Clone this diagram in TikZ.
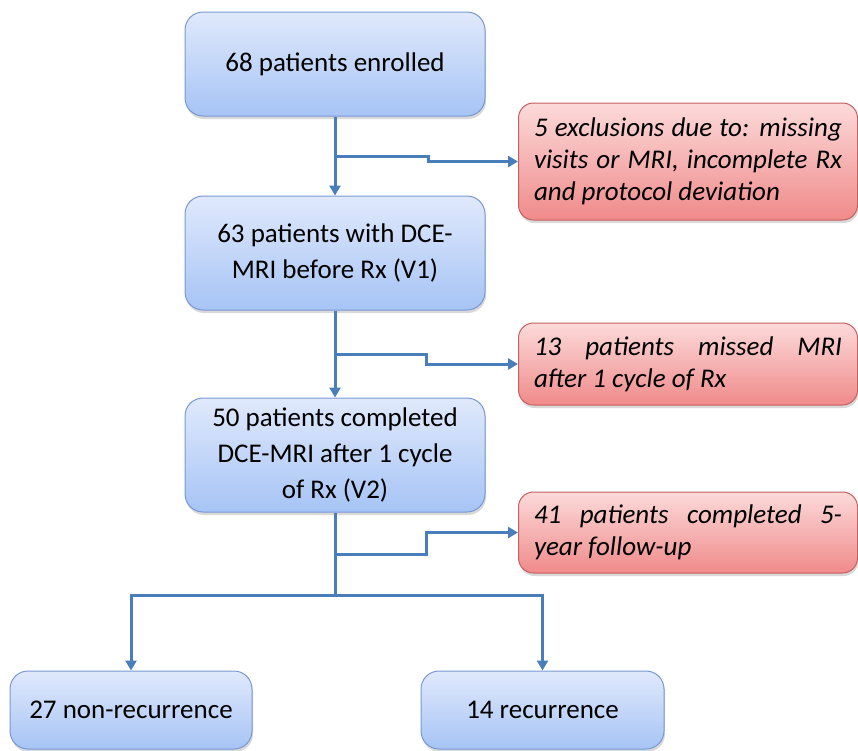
\documentclass[tikz,border=0pt]{standalone}
\usepackage{fontspec}
\setmainfont{Carlito}
\usepackage{xcolor}
\usepackage{tikz}
\usetikzlibrary{positioning,shadows,arrows.meta,calc}

\definecolor{bluetop}{RGB}{224,233,252}
\definecolor{bluebot}{RGB}{166,196,245}
\definecolor{blueline}{RGB}{120,152,212}
\definecolor{redtop}{RGB}{252,218,218}
\definecolor{redbot}{RGB}{240,138,138}
\definecolor{redline}{RGB}{198,96,96}
\definecolor{flowblue}{RGB}{74,126,187}

\begin{document}
\begin{tikzpicture}[x=1pt,y=1pt,
  stage/.style={
   draw=blueline,
   line width=1pt,
   rounded corners=18pt,
   top color=bluetop,
   bottom color=bluebot,
   minimum width=300pt,
   align=center,
   font=\fontsize{27}{36}\selectfont,
   drop shadow={shadow xshift=1pt,shadow yshift=-3pt,opacity=.3}
  },
  outbox/.style={
   draw=redline,
   line width=1pt,
   rounded corners=15pt,
   top color=redtop,
   bottom color=redbot,
   minimum width=339pt,
   text width=308pt,
   align=justify,
   font=\fontsize{27}{32}\selectfont\itshape,
   drop shadow={shadow xshift=1pt,shadow yshift=-3pt,opacity=.3}
  },
  flow/.style={
   draw=flowblue,
   line width=3pt,
   -{Triangle[length=10pt,width=11pt]}
  },
  trunk/.style={draw=flowblue,line width=3pt}]
  \useasboundingbox (0,0) rectangle (858,-750);

  % main line
  \node[stage,minimum height=104pt] at (335,-64)
    (enrol) {68 patients enrolled};
  \node[stage,minimum height=114pt] at (335,-253)
    (dceone) {63 patients with DCE-\\MRI before Rx (V1)};
  \node[stage,minimum height=114pt] at (335,-455)
    (dcetwo) {50 patients completed\\DCE-MRI after 1 cycle\\of Rx (V2)};

  % side boxes
  \node[outbox,minimum height=117pt] at (688,-161.5)
    (excl) {5 exclusions due to: missing\linebreak visits or MRI, incomplete Rx\linebreak and protocol deviation};
  \node[outbox,minimum height=82pt] at (688,-364)
    (missed) {13 patients missed MRI\linebreak after 1 cycle of Rx};
  \node[outbox,minimum height=81pt] at (688,-532.5)
    (follow) {41 patients completed 5-\linebreak year follow-up};

  % outcome
  \node[stage,minimum width=242pt,minimum height=78pt] at (131,-710)
    (nonrec) {27 non-recurrence};
  \node[stage,minimum width=243pt,minimum height=78pt] at (542.5,-710)
    (rec) {14 recurrence};

  \coordinate (jone) at ($(enrol.south)!0.5!(dceone.north)$);
  \coordinate (jtwo) at ($(dceone.south)!0.5!(dcetwo.north)$);
  \coordinate (jthree) at ($(dcetwo.south)+(0,-42)$);
  \coordinate (jfour) at ($(dcetwo.south)+(0,-83)$);

  \draw[flow] (enrol) -- (dceone);
  \draw[flow] (dceone) -- (dcetwo);
  \draw[flow] (jone) -- ++(93,0) |- (excl.west);
  \draw[flow] (jtwo) -- ++(91,0) |- (missed.west);
  \draw[trunk] (dcetwo.south) -- (jfour);
  \draw[flow] (jthree) -- ++(91,0) |- (follow.west);
  \draw[flow] (jfour) -| (nonrec.north);
  \draw[flow] (jfour) -| (rec.north);
\end{tikzpicture}
\end{document}
